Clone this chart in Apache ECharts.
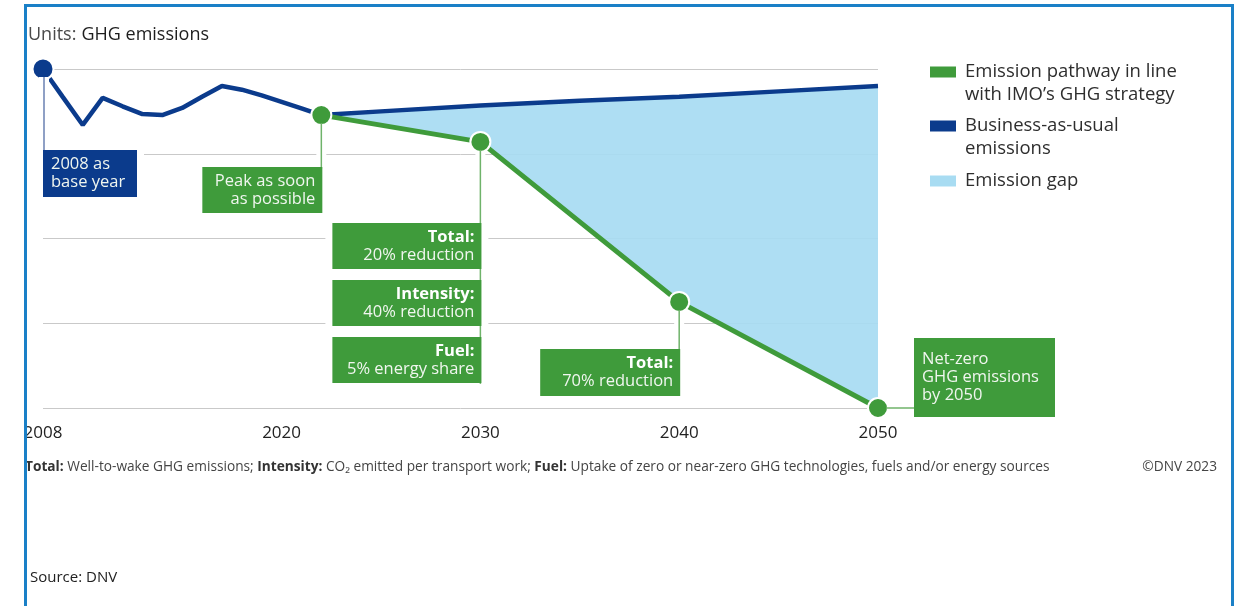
<!DOCTYPE html>
<html>
<head>
<meta charset="utf-8">
<title>GHG emissions pathway</title>
<script src="https://cdn.jsdelivr.net/npm/echarts@6/dist/echarts.min.js"></script>
<style>
    html, body { margin: 0; padding: 0; background: #ffffff; }
    #ghg-chart { width: 1237px; height: 606px; }
</style>
</head>
<body>
<div id="ghg-chart"></div>
<script>
// ------------------------------
// Data (index, 2008 = 100)
// ------------------------------
var bauYears = [2008, 2009, 2010, 2011, 2012, 2013, 2014, 2015, 2016, 2017, 2018, 2019, 2020, 2021, 2022,
    2025, 2030, 2035, 2040, 2045, 2050];
var bauValues = [100, 91.7, 83.5, 91.5, 89, 86.7, 86.4, 88.5, 91.8, 95, 93.9, 92.2, 90.3, 88.4, 86.4,
    87.5, 89.2, 90.6, 91.8, 93.4, 95];

var pathYears = [2022, 2030, 2040, 2050];
var pathValues = [86.4, 78.5, 31.3, 0];

var xTickLabels = [2008, 2020, 2030, 2040, 2050];

var seriesNames = ['Emission pathway in line\nwith IMO\u2019s GHG strategy', 'Business-as-usual\nemissions', 'Emission gap'];

var green = '#3f9b3b';
var navy = '#0b3b8c';
var gapBlue = '#a8dcf2';
var fontFamily = '"Open Sans", Lato, sans-serif';

var chart = echarts.init(document.getElementById('ghg-chart'));

var bauData = bauYears.map(function (y, i) {
    var item = { value: [y, bauValues[i]] };
    if (i === 0) {
        item.symbol = 'circle';
        item.symbolSize = 21;
    }
    return item;
});
var pathData = pathYears.map(function (y, i) {
    return [y, pathValues[i]];
});

var option = {
    backgroundColor: '#ffffff',
    animation: false,

    // Units caption
    title: {
        left: 23,
        top: 21,
        text: '{a|Units:} {b|GHG emissions}',
        textStyle: {
            rich: {
                a: { fontFamily: fontFamily, fontSize: 18, color: '#4a4a4a', fontWeight: 'normal' },
                b: { fontFamily: fontFamily, fontSize: 18, color: '#1e1e1e', fontWeight: 500 }
            }
        }
    },

    // Setup grid
    grid: {
        left: 43,
        right: 359,
        top: 69,
        bottom: 198
    },

    xAxis: {
        type: 'value',
        min: 2008,
        max: 2050,
        axisLine: { show: false },
        axisTick: { show: false },
        splitLine: { show: false },
        axisLabel: {
            customValues: xTickLabels,
            formatter: function (v) { return String(v); },
            margin: 17,
            fontFamily: fontFamily,
            fontSize: 17,
            color: '#222222'
        }
    },

    yAxis: {
        type: 'value',
        min: 0,
        max: 100,
        interval: 25,
        axisLine: { show: false },
        axisTick: { show: false },
        axisLabel: { show: false },
        splitLine: { lineStyle: { color: '#c9c9c9', width: 1 } }
    },

    series: [
        {
            name: seriesNames[2],
            type: 'custom',
            z: 1,
            silent: true,
            data: [[2022, 0]],
            renderItem: function (params, api) {
                var pts = [];
                for (var i = 0; i < bauYears.length; i++) {
                    if (bauYears[i] >= pathYears[0]) {
                        pts.push(api.coord([bauYears[i], bauValues[i]]));
                    }
                }
                for (var j = pathYears.length - 1; j >= 0; j--) {
                    pts.push(api.coord([pathYears[j], pathValues[j]]));
                }
                return {
                    type: 'polygon',
                    shape: { points: pts },
                    style: { fill: gapBlue, opacity: 0.93 }
                };
            }
        },
        {
            name: seriesNames[1],
            type: 'line',
            z: 3,
            clip: false,
            data: bauData,
            symbol: 'none',
            showSymbol: true,
            lineStyle: { color: navy, width: 4.5 },
            itemStyle: { color: navy, borderColor: '#ffffff', borderWidth: 2 }
        },
        {
            name: seriesNames[0],
            type: 'line',
            z: 4,
            clip: false,
            data: pathData,
            symbol: 'circle',
            symbolSize: 20,
            lineStyle: { color: green, width: 5 },
            itemStyle: { color: green, borderColor: '#ffffff', borderWidth: 2 }
        }
    ]
};
chart.setOption(option);

// ------------------------------
// Annotation boxes, anchored to data points
// ------------------------------
function px(year, value) {
    return chart.convertToPixel({ xAxisIndex: 0, yAxisIndex: 0 }, [year, value]);
}

function boxText(lines) {
    // lines: [{t, bold}]
    return lines.map(function (l) {
        return (l.bold ? '{b|' : '{r|') + l.t + '}';
    }).join('\n');
}

var boxRich = {
    b: { fontFamily: fontFamily, fontSize: 16.5, fontWeight: 'bold', fill: '#ffffff', lineHeight: 18 },
    r: { fontFamily: fontFamily, fontSize: 16.5, fill: '#f0f6ef', lineHeight: 18 }
};

function makeBox(x, y, w, h, fill, text, align) {
    return [
        {
            type: 'rect', z: 4,
            shape: { x: x - 7, y: y - 5, width: w + 14, height: h + 10 },
            style: { fill: '#ffffff' }
        },
        {
            type: 'rect', z: 5,
            shape: { x: x, y: y, width: w, height: h },
            style: { fill: fill }
        },
        {
            type: 'text', z: 6,
            x: align === 'right' ? x + w - 7 : x + 8,
            y: y + h / 2,
            style: {
                text: text,
                rich: boxRich,
                align: align,
                verticalAlign: 'middle'
            }
        }
    ];
}

function leader(x1, y1, x2, y2, color) {
    return [
        { type: 'line', z: 4, shape: { x1: x1, y1: y1, x2: x2, y2: y2 }, style: { stroke: '#ffffff', lineWidth: 10 } },
        { type: 'line', z: 5, shape: { x1: x1, y1: y1, x2: x2, y2: y2 }, style: { stroke: color, lineWidth: 1.5 } }
    ];
}

function buildGraphics() {
    var els = [];
    var p0 = px(bauYears[0], bauValues[0]);
    var p1 = px(pathYears[0], pathValues[0]);
    var p2 = px(pathYears[1], pathValues[1]);
    var p3 = px(pathYears[2], pathValues[2]);
    var p4 = px(pathYears[3], pathValues[3]);

    // 2008 base year
    els = els.concat(leader(p0[0] + 1, p0[1] + 8, p0[0] + 1, p0[1] + 84, '#6a80b2'));
    els = els.concat(makeBox(p0[0], p0[1] + 81, 94, 47, navy,
        boxText([{ t: '2008 as' }, { t: 'base year' }]), 'left'));

    // peak
    els = els.concat(leader(p1[0], p1[1] + 8, p1[0], p1[1] + 54, '#6fb36a'));
    els = els.concat(makeBox(p1[0] - 119, p1[1] + 52, 120, 46, green,
        boxText([{ t: 'Peak as soon' }, { t: 'as possible' }]), 'right'));

    // 2030 checkpoints
    els = els.concat(leader(p2[0], p2[1] + 8, p2[0], p2[1] + 242, '#6fb36a'));
    var texts2030 = [
        [{ t: 'Total:', bold: true }, { t: '20% reduction' }],
        [{ t: 'Intensity:', bold: true }, { t: '40% reduction' }],
        [{ t: 'Fuel:', bold: true }, { t: '5% energy share' }]
    ];
    texts2030.forEach(function (lines, i) {
        els = els.concat(makeBox(p2[0] - 148, p2[1] + 81 + i * 57, 149, 46, green, boxText(lines), 'right'));
    });

    // 2040 checkpoint
    els = els.concat(leader(p3[0], p3[1] + 8, p3[0], p3[1] + 50, '#6fb36a'));
    els = els.concat(makeBox(p3[0] - 139, p3[1] + 47, 140, 47, green,
        boxText([{ t: 'Total:', bold: true }, { t: '70% reduction' }]), 'right'));

    // 2050 net zero
    els = els.concat(leader(p4[0] + 8, p4[1], p4[0] + 38, p4[1], '#6fb36a'));
    els = els.concat(makeBox(p4[0] + 36, p4[1] - 70, 141, 79, green,
        boxText([{ t: 'Net-zero' }, { t: 'GHG emissions' }, { t: 'by 2050' }]), 'left'));

    // legend
    var legendColors = [green, navy, gapBlue];
    var legendTops = [72, 126, 181];
    seriesNames.forEach(function (name, i) {
        els.push({
            type: 'rect', z: 6,
            shape: { x: 930, y: legendTops[i] - 5.5, width: 26, height: 11 },
            style: { fill: legendColors[i] }
        });
        els.push({
            type: 'text', z: 6,
            x: 965, y: legendTops[i] - 11.5,
            style: {
                text: name,
                fontFamily: fontFamily,
                fontSize: 18.5,
                lineHeight: 23,
                fill: '#2e2e2e',
                verticalAlign: 'top'
            }
        });
    });

    // footnote
    els.push({
        type: 'text', z: 6,
        x: 25, y: 467,
        style: {
            text: '{b|Total:} Well-to-wake GHG emissions; {b|Intensity:} CO\u2082 emitted per transport work; {b|Fuel:} Uptake of zero or near-zero GHG technologies, fuels and/or energy sources',
            verticalAlign: 'middle',
            fontFamily: fontFamily,
            fontSize: 13.7,
            fill: '#444444',
            rich: {
                b: { fontFamily: fontFamily, fontSize: 13.7, fontWeight: 'bold', fill: '#333333' }
            }
        }
    });
    els.push({
        type: 'text', z: 6,
        x: 1217, y: 467,
        style: {
            text: '\u00a9DNV 2023',
            align: 'right',
            verticalAlign: 'middle',
            fontFamily: fontFamily,
            fontSize: 13.7,
            fill: '#444444'
        }
    });

    // source line
    els.push({
        type: 'text', z: 6,
        x: 30, y: 578,
        style: {
            text: 'Source: DNV',
            verticalAlign: 'middle',
            fontFamily: '"Open Sans", sans-serif',
            fontSize: 15,
            fill: '#222222'
        }
    });

    // frame
    els.push({
        type: 'rect', z: 10,
        shape: { x: 25.5, y: 5.5, width: 1207, height: 700 },
        style: { fill: 'none', stroke: '#1a80c7', lineWidth: 3 }
    });

    chart.setOption({ graphic: { elements: els } });
}
buildGraphics();

// Resize chart on window resize
window.addEventListener('resize', function () {
    setTimeout(function () {
        chart.resize();
        buildGraphics();
    }, 200);
});
</script>
</body>
</html>
